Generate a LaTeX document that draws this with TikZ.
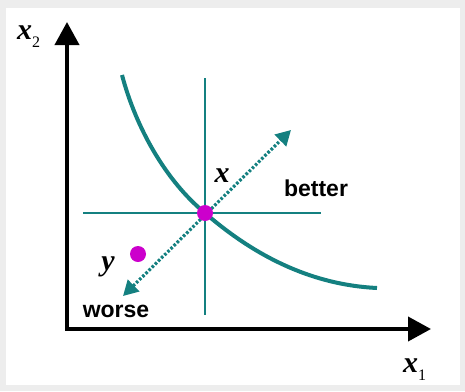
\documentclass[tikz,border=0pt]{standalone}
\usepackage{fontspec}
\setmainfont{Liberation Serif}
\newfontfamily\labelsans{Liberation Sans}
\usetikzlibrary{arrows.meta}
\definecolor{curveteal}{RGB}{20,128,128}
\definecolor{pointmag}{RGB}{204,0,204}
\newcommand{\axlab}[2]{\textit{\textbf{#1}}\raisebox{-8pt}{\fontsize{16}{16}\selectfont #2}}

\begin{document}
\begin{tikzpicture}[x=1pt,y=-1pt,
		axis/.style={line width=4pt,line join=miter,{Triangle[length=23pt,width=24pt]}-{Triangle[length=23pt,width=24pt]}},
		guide/.style={curveteal,line width=2pt},
		indiff/.style={curveteal,line width=4pt},
		dirarrow/.style={curveteal,line width=3.2pt,dash pattern=on 2.6pt off 1.8pt,{Triangle[length=15pt,width=16pt]}-{Triangle[length=15pt,width=16pt]}},
		bundle/.style={circle,fill=pointmag,inner sep=0pt,minimum size=16pt},
		wordlab/.style={font=\labelsans\bfseries\fontsize{23}{26}\selectfont,inner sep=0pt},
		varlab/.style={font=\bfseries\itshape\fontsize{30}{32}\selectfont,inner sep=0pt}]
				% frame
				\fill[black!7] (0,0) rectangle (465,391);
				\fill[white] (6,8) rectangle (460,385);
				\useasboundingbox (0,0) rectangle (465,391);
				% axes
				\coordinate (O) at (67,329);
				\coordinate (Ytip) at (67,22);
				\coordinate (Xtip) at (431,329);
				\draw[axis] (Ytip)--(O)--(Xtip);
				\node[anchor=base west,inner sep=0pt,font=\fontsize{30}{32}\selectfont] (xtwo) at (17,39) {\axlab{x}{2}};
				\node[anchor=base west,inner sep=0pt,font=\fontsize{30}{32}\selectfont] (xone) at (403,372) {\axlab{x}{1}};
				% cross through x
				\coordinate (P) at (205,213);
				\coordinate (Vtop) at (205,78);
				\coordinate (Vbot) at (205,315);
				\coordinate (Hl) at (83,213);
				\coordinate (Hr) at (321,213);
				\draw[guide] (Vtop)--(Vbot);
				\draw[guide] (Hl)--(Hr);
				% indifference curve
				\coordinate (C1) at (122,75);
				\coordinate (C2) at (377,288);
				\draw[indiff] (C1) .. controls (136,128) and (166,181) .. (P)
					.. controls (258,259) and (315,285) .. (C2);
				% better / worse direction
				\coordinate (Wtip) at (123,296);
				\coordinate (Btip) at (291,130);
				\draw[dirarrow] (Wtip)--(Btip);
				\node[bundle] (xpt) at (P) {};
				\node[bundle] (ypt) at (138,254) {};
				\node[varlab] (xlab) at (222,176) {x};
				\node[varlab] (ylab) at (108,267) {y};
				\node[wordlab] (better) at (316,188) {better};
				\node[wordlab] (worse) at (116,311) {worse};
			\end{tikzpicture}
\end{document}
